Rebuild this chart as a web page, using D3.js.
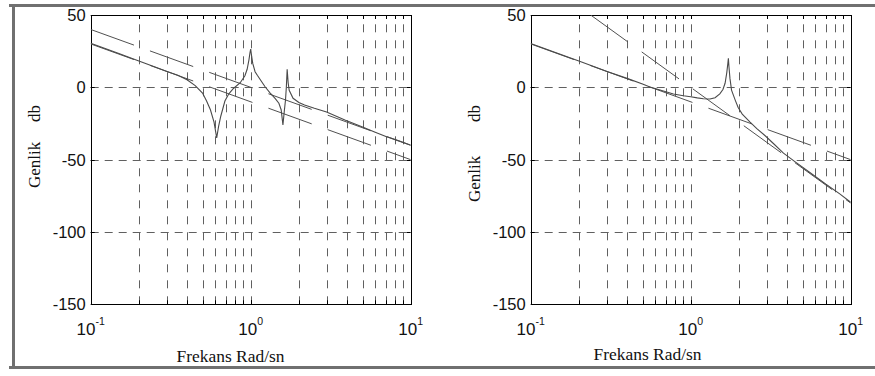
<!DOCTYPE html>
<html>
<head>
<meta charset="utf-8">
<script src="https://cdn.jsdelivr.net/npm/d3@7"></script>
<style>
  body { margin: 0; background: #fff; }
  svg { display: block; }
</style>
</head>
<body>
<div id="chart"></div>
<script>
// frequency grid (rad/s) and magnitude ticks (dB)
const decades = [0.1, 1, 10];
const minorFreqs = [0.2, 0.3, 0.4, 0.5, 0.6, 0.7, 0.8, 0.9, 1, 2, 3, 4, 5, 6, 7, 8, 9];
const dbTicks = [50, 0, -50, -100, -150];
const decadeLabels = ["-1", "0", "1"];

// left plot: response and its two asymptotes [freq, dB]
const leftCurve = [
  [0.1, 30.5], [0.15, 23.4], [0.2, 18.2], [0.25, 14.2], [0.3, 11], [0.35, 8.3],
  [0.4, 5.2], [0.45, 1.2], [0.5, -4], [0.53, -9.5], [0.56, -15.5], [0.59, -24],
  [0.613, -35], [0.63, -27], [0.65, -20], [0.69, -9.5], [0.73, -4.5], [0.78, -0.8],
  [0.86, 3.2], [0.92, 8], [0.95, 12.5], [0.975, 19], [0.99, 24], [1.0, 26.5],
  [1.015, 21], [1.03, 16.5], [1.065, 10.8], [1.1, 8.3], [1.16, 4.5], [1.23, 0.4],
  [1.32, -3.8], [1.42, -7.6], [1.5, -11], [1.55, -15.5], [1.59, -26], [1.62, -17],
  [1.65, -8.8], [1.67, 0], [1.69, 12.5], [1.715, 3], [1.74, -2], [1.84, -7.6],
  [2.0, -10.5], [2.17, -12.2], [2.5, -14.5], [2.98, -17], [3.88, -22.6], [5, -27.5],
  [6, -31], [7, -34], [8.5, -37.2], [10, -40]
];
const leftUpperAsym = [[0.1, 40], [10, -40]];
const leftLowerAsym = [[0.1, 30], [10, -50]];

// right plot
const rightCurve = [
  [0.1, 30.3], [0.15, 23.2], [0.2, 18.2], [0.25, 14.2], [0.3, 11], [0.4, 6.2],
  [0.5, 2.3], [0.556, 0.2], [0.643, -1.8], [0.78, -4.6], [0.9, -5.8], [1.0, -6.5],
  [1.1, -7.3], [1.2, -7.9], [1.32, -8.1], [1.42, -7.2], [1.52, -4.5], [1.59, -1.5],
  [1.64, 2.8], [1.68, 10], [1.705, 16], [1.72, 20], [1.735, 14], [1.76, 6],
  [1.8, -1.9], [1.9, -9], [1.98, -14], [2.1, -18.5], [2.35, -24], [2.59, -28.5],
  [2.92, -33.5], [3.3, -39], [3.8, -45.5], [4.5, -51.5], [5.5, -58.5], [7, -67],
  [8.5, -73.5], [10, -79.5]
];
const rightLowerAsym = [[0.1, 30], [10, -50]];
const rightSteepAsym = [[0.237, 50], [10, -80]];

const width = 875, height = 376;
const plotTop = 15, plotBottom = 304.3, plotW = 320;

const svg = d3.select("#chart").append("svg")
  .attr("width", width)
  .attr("height", height);

// grey frame round the figure
svg.append("path")
  .attr("d", "M9,5.5H875 M13.5,5V368 M9,367.5H875")
  .attr("stroke", "#707070")
  .attr("stroke-width", 3)
  .attr("fill", "none");

const y = d3.scaleLinear().domain([-150, 50]).range([plotBottom, plotTop]);

const drawPanel = (left, curve, asyms, id, genlikY, labelX, labelY) => {
  const x = d3.scaleLog().domain([0.1, 10]).range([left, left + plotW]);
  const g = svg.append("g");

  g.append("clipPath").attr("id", id)
    .append("rect")
    .attr("x", left).attr("y", plotTop)
    .attr("width", plotW).attr("height", plotBottom - plotTop);

  // dashed grid
  g.selectAll(".vgrid")
    .data(minorFreqs)
    .join("line")
    .attr("x1", d => Math.round(x(d)) + 0.5)
    .attr("x2", d => Math.round(x(d)) + 0.5)
    .attr("y1", plotBottom)
    .attr("y2", plotTop)
    .attr("stroke", "#606060")
    .attr("stroke-dasharray", "8,8");

  g.selectAll(".hgrid")
    .data([0, -50, -100])
    .join("line")
    .attr("x1", left)
    .attr("x2", left + plotW)
    .attr("y1", d => Math.round(y(d)) + 0.5)
    .attr("y2", d => Math.round(y(d)) + 0.5)
    .attr("stroke", "#606060")
    .attr("stroke-dasharray", "8,6");

  // inward ticks on the frame
  const ticks = g.append("g").attr("stroke", "#000");
  minorFreqs.concat(decades).forEach(f => {
    const xx = Math.round(x(f)) + 0.5;
    ticks.append("line").attr("x1", xx).attr("x2", xx).attr("y1", plotBottom).attr("y2", plotBottom - 4);
    ticks.append("line").attr("x1", xx).attr("x2", xx).attr("y1", plotTop).attr("y2", plotTop + 4);
  });
  dbTicks.forEach(v => {
    const yy = Math.round(y(v)) + 0.5;
    ticks.append("line").attr("x1", left).attr("x2", left + 4).attr("y1", yy).attr("y2", yy);
    ticks.append("line").attr("x1", left + plotW).attr("x2", left + plotW - 4).attr("y1", yy).attr("y2", yy);
  });

  g.append("rect")
    .attr("x", Math.round(left) + 0.5).attr("y", Math.round(plotTop) + 0.5)
    .attr("width", plotW).attr("height", Math.round(plotBottom - plotTop))
    .attr("fill", "none")
    .attr("stroke", "#000");

  const line = d3.line().x(d => x(d[0])).y(d => y(d[1]));
  const plot = g.append("g").attr("clip-path", `url(#${id})`);

  asyms.forEach(a => {
    plot.append("path")
      .attr("d", line(a))
      .attr("fill", "none")
      .attr("stroke", "#505050")
      .attr("stroke-width", 1)
      .attr("stroke-dasharray", "46,17");
  });

  plot.append("path")
    .attr("d", line(curve))
    .attr("fill", "none")
    .attr("stroke", "#4a4a4a")
    .attr("stroke-width", 1.1);

  // tick labels
  g.selectAll(".ylab")
    .data(dbTicks)
    .join("text")
    .attr("x", left - 5)
    .attr("y", d => y(d) + 6)
    .attr("text-anchor", "end")
    .attr("font-family", "Liberation Sans, Arial, sans-serif")
    .attr("font-size", 16.5)
    .attr("fill", "#111")
    .text(d => d);

  decades.forEach((f, i) => {
    const t = g.append("text")
      .attr("x", x(f))
      .attr("y", 335)
      .attr("text-anchor", "middle")
      .attr("font-family", "Liberation Sans, Arial, sans-serif")
      .attr("font-size", 17)
      .attr("fill", "#111");
    t.append("tspan").text("10");
    t.append("tspan").attr("font-size", 10.5).attr("dy", -10).text(decadeLabels[i]);
  });

  g.append("text")
    .attr("x", labelX)
    .attr("y", labelY)
    .attr("text-anchor", "middle")
    .attr("font-family", "Liberation Serif, Times New Roman, serif")
    .attr("font-size", 16.5)
    .attr("textLength", 108)
    .attr("lengthAdjust", "spacingAndGlyphs")
    .attr("fill", "#111")
    .text("Frekans Rad/sn");

  const yl = left - 51;
  g.append("text")
    .attr("transform", `translate(${yl},${genlikY}) rotate(-90)`)
    .attr("font-family", "Liberation Serif, Times New Roman, serif")
    .attr("font-size", 17)
    .attr("fill", "#111")
    .text("Genlik");
  g.append("text")
    .attr("transform", `translate(${yl},122) rotate(-90)`)
    .attr("font-family", "Liberation Serif, Times New Roman, serif")
    .attr("font-size", 17)
    .attr("fill", "#111")
    .text("db");
};

drawPanel(90.7, leftCurve, [leftUpperAsym, leftLowerAsym], "clipL", 188, 230.5, 362);
drawPanel(530.7, rightCurve, [rightLowerAsym, rightSteepAsym], "clipR", 202, 647.5, 360);
</script>
</body>
</html>
